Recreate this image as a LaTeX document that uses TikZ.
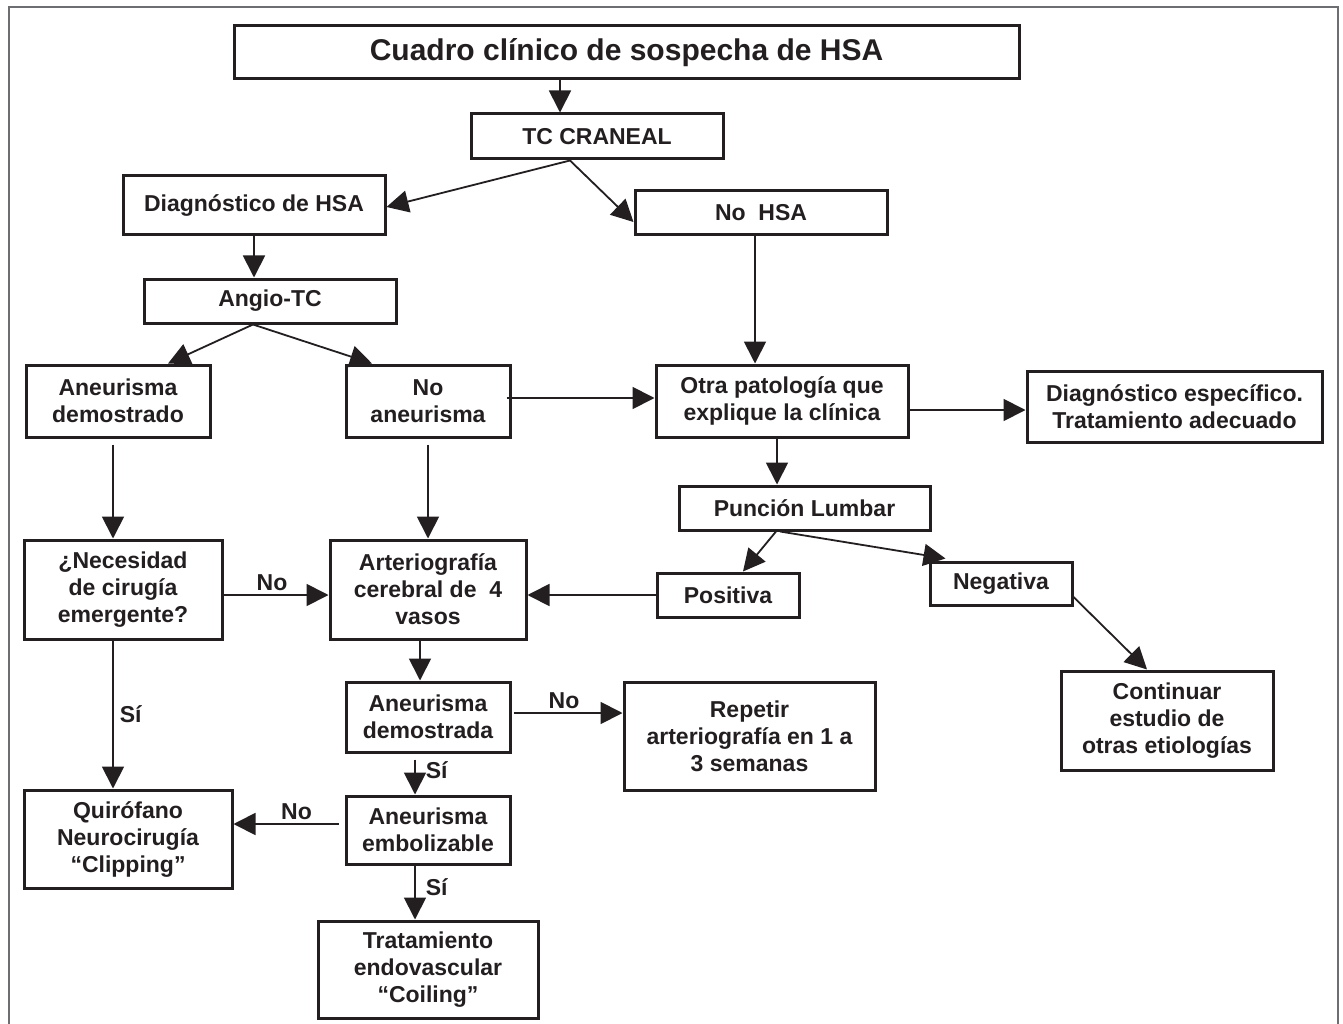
\documentclass[tikz,border=0pt]{standalone}
\usepackage{fontspec}
\setmainfont{Liberation Sans}
\usetikzlibrary{arrows.meta}
\definecolor{ink}{HTML}{231F20}
\definecolor{frame}{HTML}{6D6E71}
\begin{document}
\begin{tikzpicture}[x=1pt,y=-1pt,
  box/.style={draw=ink, line width=3pt, fill=white, align=center, inner sep=0pt,
    font=\fontsize{23}{27}\selectfont\bfseries, text=ink},
  arr/.style={draw=ink, line width=1.8pt, -{Triangle[length=22pt,width=22pt]}},
  lbl/.style={font=\fontsize{23}{27}\selectfont\bfseries, text=ink, inner sep=3pt}]
\useasboundingbox (0,0) rectangle (1343,1024);
\fill[white] (0,0) rectangle (1343,1024);
\draw[frame, line width=1.5pt] (9,1024) -- (9,7) -- (1338,7) -- (1338,1024);

\node[box, minimum width=785pt, minimum height=53pt, font=\fontsize{30}{34}\selectfont\bfseries] (title) at (626.5,52.5) {Cuadro clínico de sospecha de HSA};
\node[box, minimum width=252pt, minimum height=45pt] (tc) at (597,136.5) {TC CRANEAL};
\node[box, minimum width=262pt, minimum height=59pt] (diag) at (254,205.5) {Diagnóstico de HSA};
\node[box, minimum width=252pt, minimum height=44pt] (nohsa) at (761,213) {No\ \ HSA};
\node[box, minimum width=252pt, minimum height=44pt] (angio) at (270,301) {Angio-TC};
\node[box, minimum width=184pt, minimum height=72pt] (andem) at (118,401) {Aneurisma\\demostrado};
\node[box, minimum width=164pt, minimum height=72pt] (noan) at (428,401) {No\\aneurisma};
\node[box, minimum width=252pt, minimum height=72pt] (otra) at (782,401) {Otra patología que\\explique la clínica};
\node[box, minimum width=295pt, minimum height=71pt] (diagesp) at (1174.5,406.5) {Diagnóstico específico.\\Tratamiento adecuado};
\node[box, minimum width=251pt, minimum height=44pt] (puncion) at (804.5,508) {Punción Lumbar};
\node[box, minimum width=142pt, minimum height=44pt] (positiva) at (728,595) {Positiva};
\node[box, minimum width=142pt, minimum height=43pt] (negativa) at (1001,583.5) {Negativa};
\node[box, minimum width=198pt, minimum height=99pt] (necesidad) at (123,589.5) {¿Necesidad\\de cirugía\\emergente?};
\node[box, minimum width=196pt, minimum height=99pt] (arterio) at (428,589.5) {Arteriografía\\cerebral de\ \ 4\\vasos};
\node[box, minimum width=164pt, minimum height=70pt] (andemda) at (428,717) {Aneurisma\\demostrada};
\node[box, minimum width=251pt, minimum height=108pt] (repetir) at (749.5,736) {Repetir\\arteriografía en 1 a\\3 semanas};
\node[box, minimum width=212pt, minimum height=99pt] (continuar) at (1167,720.5) {Continuar\\estudio de\\otras etiologías};
\node[box, minimum width=208pt, minimum height=98pt] (quiro) at (128,839) {Quirófano\\Neurocirugía\\“Clipping”};
\node[box, minimum width=164pt, minimum height=68pt] (embol) at (428,830) {Aneurisma\\embolizable};
\node[box, minimum width=220pt, minimum height=97pt] (trat) at (428,969.5) {Tratamiento\\endovascular\\“Coiling”};

% connectors
\draw[arr] ([xshift=-37pt]tc.north |- title.south) -- ([xshift=-37pt]tc.north);
\draw[arr] ([xshift=-27pt]tc.south) -- ([yshift=-1.5pt]diag.east);
\draw[arr] ([xshift=-27pt]tc.south) -- ([yshift=-9pt]nohsa.west);
\draw[arr] (diag.south) -- (diag.south |- angio.north);
\draw[arr] ([xshift=-17pt]angio.south) -- ([xshift=50pt]andem.north);
\draw[arr] ([xshift=-17pt]angio.south) -- ([xshift=-56pt]noan.north);
\draw[arr] ([xshift=-6pt]nohsa.south) -- ([xshift=-6pt]nohsa.south |- otra.north);
\draw[arr] ([xshift=-5pt,yshift=3pt]noan.east) -- ([yshift=3pt]otra.west);
\draw[arr] ([yshift=-9pt]otra.east) -- ([yshift=-9pt]otra.east -| diagesp.west);
\draw[arr] ([xshift=-5pt]otra.south) -- ([xshift=-5pt]otra.south |- puncion.north);
\draw[arr] ([xshift=-5pt,yshift=-6pt]andem.south) -- ([xshift=-5pt]andem.south |- necesidad.north);
\draw[arr] ([yshift=-6pt]noan.south) -- (noan.south |- arterio.north);
\draw[arr] ([xshift=-28.5pt]puncion.south) -- ([xshift=15pt]positiva.north);
\draw[arr] ([xshift=-24.5pt]puncion.south) -- ([xshift=17pt,yshift=2pt]negativa.north west);
\draw[arr] (positiva.west) -- (positiva.west -| arterio.east);
\draw[arr] ([yshift=-13.5pt]negativa.east) -- ([xshift=-20pt]continuar.north);
\draw[arr] ([yshift=-5.5pt]necesidad.east) -- ([yshift=-5.5pt]necesidad.east -| arterio.west)
  node[lbl, midway, above, xshift=-4pt] {No};
\draw[arr] ([xshift=-10pt]necesidad.south) -- ([xshift=-10pt]necesidad.south |- quiro.north)
  node[lbl, pos=0.5, right, xshift=3pt] {Sí};
\draw[arr] ([xshift=-8pt]arterio.south) -- ([xshift=-8pt]arterio.south |- andemda.north);
\draw[arr] ([xshift=2pt,yshift=4pt]andemda.east) -- ([yshift=4pt]andemda.east -| repetir.west)
  node[lbl, midway, above, xshift=-4pt] {No};
\draw[arr] ([xshift=-13pt,yshift=-6pt]andemda.south) -- ([xshift=-13pt]andemda.south |- embol.north)
  node[lbl, pos=0.3, right, xshift=7pt] {Sí};
\draw[arr] ([xshift=-6pt,yshift=6pt]embol.west) -- ([yshift=6pt]embol.west -| quiro.east)
  node[lbl, pos=0.4, above] {No};
\draw[arr] ([xshift=-13pt]embol.south) -- ([xshift=-13pt]embol.south |- trat.north)
  node[lbl, pos=0.4, right, xshift=7pt] {Sí};
\end{tikzpicture}
\end{document}
